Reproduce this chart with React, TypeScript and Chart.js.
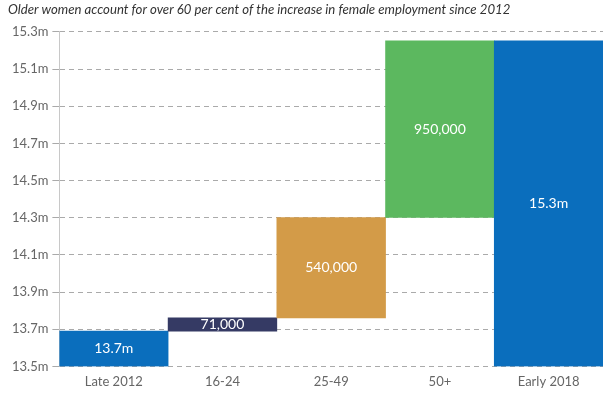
import React, { useEffect, useRef } from "react";
import { Chart, registerables } from "chart.js";
Chart.register(...registerables);

const categories = ["Late 2012", "16-24", "25-49", "50+", "Early 2018"];
const startTotal = 13.69;
const increments = [0.071, 0.54, 0.95];
const barLabels = ["13.7m", "71,000", "540,000", "950,000", "15.3m"];
const barColors = ["#0a6ebd", "#353a64", "#d39b48", "#5cb85f", "#0a6ebd"];
const axisMin = 13.5;
const axisMax = 15.3;
const axisStep = 0.2;

const FONT = "Lato, 'Open Sans', sans-serif";

export default function App() {
  const ref = useRef<HTMLCanvasElement | null>(null);
  useEffect(() => {
    document.body.style.margin = "0";
    const ranges: [number, number][] = [[axisMin, startTotal]];
    let acc = startTotal;
    for (const inc of increments) {
      ranges.push([acc, acc + inc]);
      acc += inc;
    }
    ranges.push([axisMin, acc]);

    const labelPlugin = {
      id: "barLabels",
      afterDatasetsDraw(chart: any) {
        const ctx = chart.ctx;
        const meta = chart.getDatasetMeta(0);
        ctx.save();
        ctx.fillStyle = "#ffffff";
        ctx.font = `14px ${FONT}`;
        ctx.textAlign = "center";
        ctx.textBaseline = "middle";
        meta.data.forEach((bar: any, i: number) => {
          const y = (bar.y + bar.base) / 2;
          ctx.fillText(barLabels[i], bar.x, y);
        });
        ctx.restore();
      },
    };

    const chart = new Chart(ref.current!, {
      type: "bar",
      data: {
        labels: categories,
        datasets: [
          {
            data: ranges as any,
            backgroundColor: barColors,
            borderWidth: 0,
            barPercentage: 1,
            categoryPercentage: 1,
          },
        ],
      },
      options: {
        animation: false,
        responsive: false,
        maintainAspectRatio: false,
        layout: { padding: { left: 8, right: 2, top: 0, bottom: 8 } },
        plugins: {
          legend: { display: false },
          tooltip: { enabled: false },
          title: {
            display: true,
            text: "Older women account for over 60 per cent of the increase in female employment since 2012",
            align: "start",
            color: "#333333",
            font: { family: FONT, size: 13.2, style: "italic", weight: "normal" },
            padding: { top: 2, bottom: 14 },
          },
        },
        scales: {
          x: {
            grid: { display: false },
            border: { display: false },
            ticks: { color: "#666666", font: { family: FONT, size: 13 }, padding: 0 },
          },
          y: {
            min: axisMin,
            max: axisMax,
            ticks: {
              stepSize: axisStep,
              color: "#666666",
              font: { family: FONT, size: 13 },
              padding: 4,
              callback: (v: any) => Number(v).toFixed(1) + "m",
            },
            grid: {
              color: "#aaaaaa",
              tickColor: "#aaaaaa",
              tickLength: 7,
              lineWidth: 1,
            },
            border: { display: true, color: "#c8c8c8", dash: [5, 4] },
          },
        },
      },
      plugins: [labelPlugin],
    });
    return () => chart.destroy();
  }, []);
  return (
    <div style={{ width: 605, height: 398 }}>
      <canvas ref={ref} width={605} height={398} />
    </div>
  );
}
